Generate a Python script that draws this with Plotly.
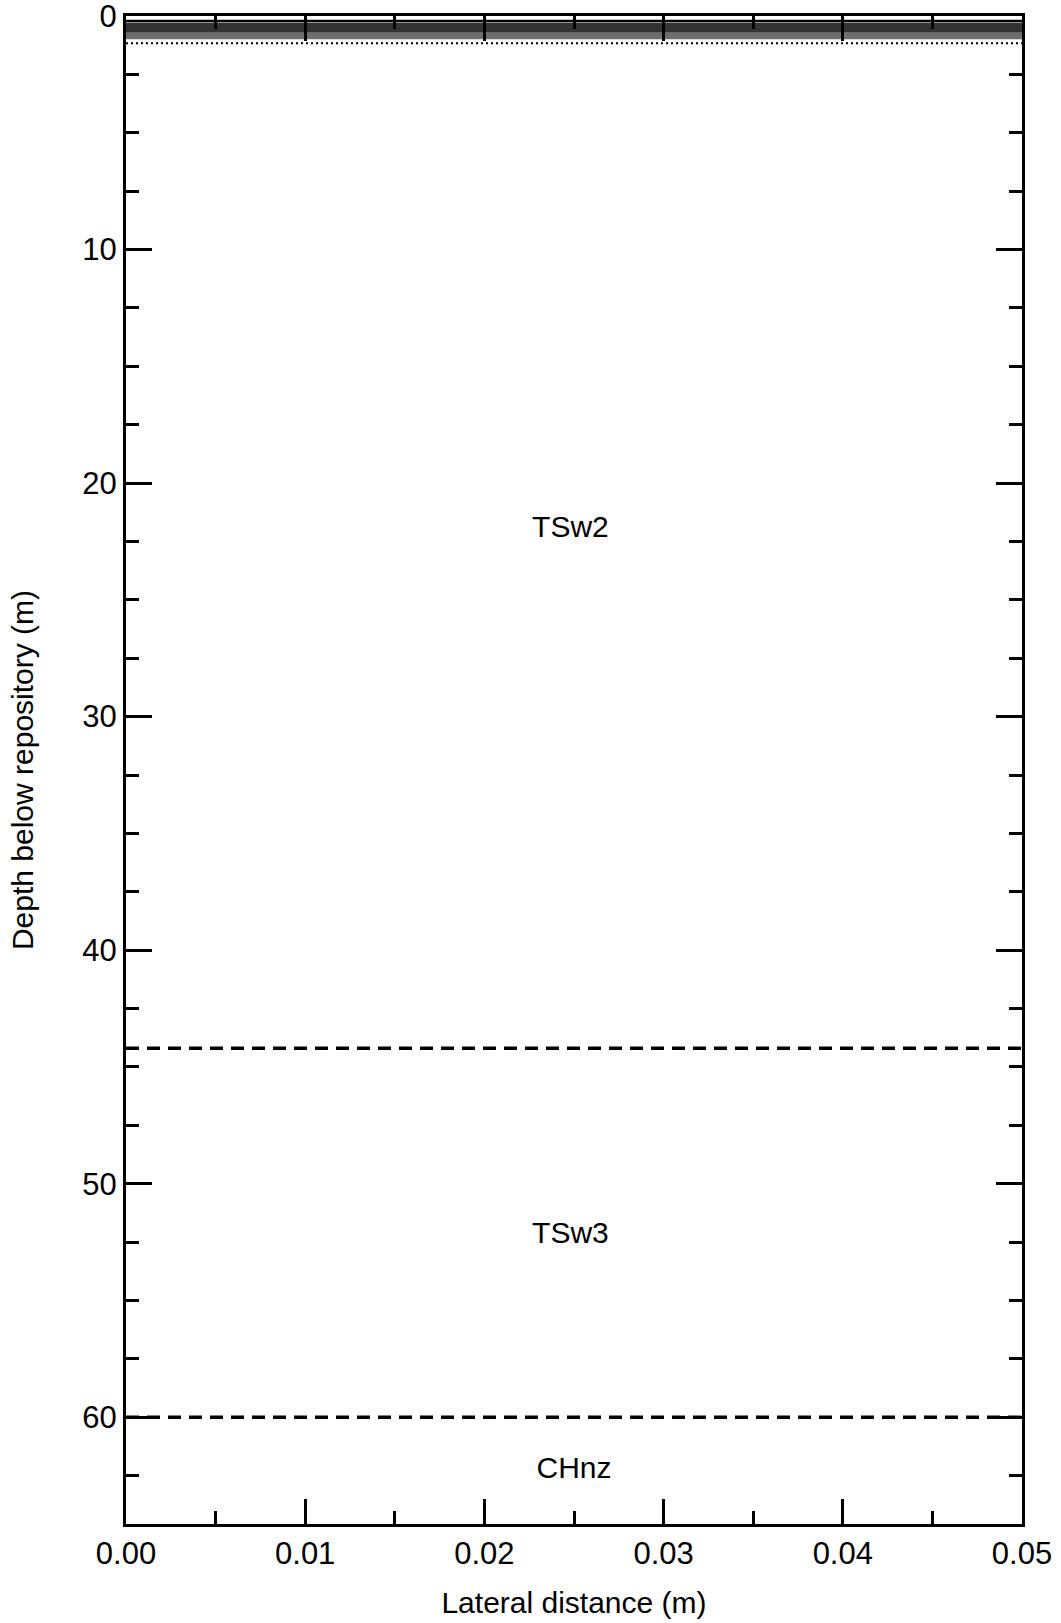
import plotly.graph_objects as go

# Lateral extent of the model column (m)
x_extent = [0.0, 0.05]

# Hydrogeologic unit contacts (depth below repository, m)
contact_depths = [44.2, 60.0]

# Unit labels and where they are written
unit_names = ["TSw2", "TSw3", "CHnz"]
unit_label_depths = [22.0, 52.2, 62.3]
unit_label_x = [0.0248, 0.0248, 0.0250]

# Near-drift zone just below the repository floor (m)
floor_line_depth = 0.21
zone_dark = [0.29, 0.72]
zone_light = [0.72, 1.0]
front_depth = 1.17

depth_max = 64.57

font_family = "Liberation Sans, Arial, Helvetica, sans-serif"

fig = go.Figure()

def band(top, bottom, color):
    fig.add_trace(go.Scatter(
        x=[x_extent[0], x_extent[1], x_extent[1], x_extent[0], x_extent[0]],
        y=[top, top, bottom, bottom, top],
        mode="lines", fill="toself", fillcolor=color,
        line=dict(width=0), hoverinfo="skip", showlegend=False))

band(zone_dark[0], zone_dark[1], "#333333")
band(zone_light[0], zone_light[1], "#6e6e6e")

# floor line
fig.add_trace(go.Scatter(
    x=x_extent, y=[floor_line_depth] * 2, mode="lines",
    line=dict(color="black", width=2.5), hoverinfo="skip", showlegend=False))

# leading front (dotted)
fig.add_trace(go.Scatter(
    x=x_extent, y=[front_depth] * 2, mode="lines",
    line=dict(color="black", width=2, dash="2px,3px"),
    hoverinfo="skip", showlegend=False))

# unit contacts (dashed)
for d in contact_depths:
    fig.add_trace(go.Scatter(
        x=x_extent, y=[d, d], mode="lines",
        line=dict(color="black", width=3.4, dash="13px,8px"),
        hoverinfo="skip", showlegend=False))

# unit labels
fig.add_trace(go.Scatter(
    x=unit_label_x, y=unit_label_depths, mode="text", text=unit_names,
    textposition="middle center",
    textfont=dict(family=font_family, size=30, color="black"),
    hoverinfo="skip", showlegend=False))

axis_common = dict(
    showline=True, linecolor="black", linewidth=3, mirror="allticks",
    ticks="inside", tickcolor="black", tickwidth=3,
    showgrid=False, zeroline=False, automargin=False,
    ticklabeloverflow="allow",
    tickfont=dict(family=font_family, size=31, color="black"),
)

fig.update_xaxes(
    range=x_extent, dtick=0.01, tick0=0, tickformat=".2f", ticklen=25,
    minor=dict(dtick=0.005, tick0=0, ticks="inside", ticklen=13,
               tickwidth=3, tickcolor="black", showgrid=False),
    title=dict(text="Lateral distance (m)", standoff=22,
               font=dict(family=font_family, size=30, color="black")),
    **axis_common)

fig.update_yaxes(
    range=[depth_max, 0], dtick=10, tick0=0, ticklen=26,
    minor=dict(dtick=2.5, tick0=0, ticks="inside", ticklen=13,
               tickwidth=3, tickcolor="black", showgrid=False),
    title=dict(text="Depth below repository (m)", standoff=40,
               font=dict(family=font_family, size=30, color="black")),
    **axis_common)

fig.update_layout(
    width=1061, height=1623,
    margin=dict(l=126, r=39, t=16, b=99),
    plot_bgcolor="white", paper_bgcolor="white",
    showlegend=False,
)

fig.write_html("out.html")
